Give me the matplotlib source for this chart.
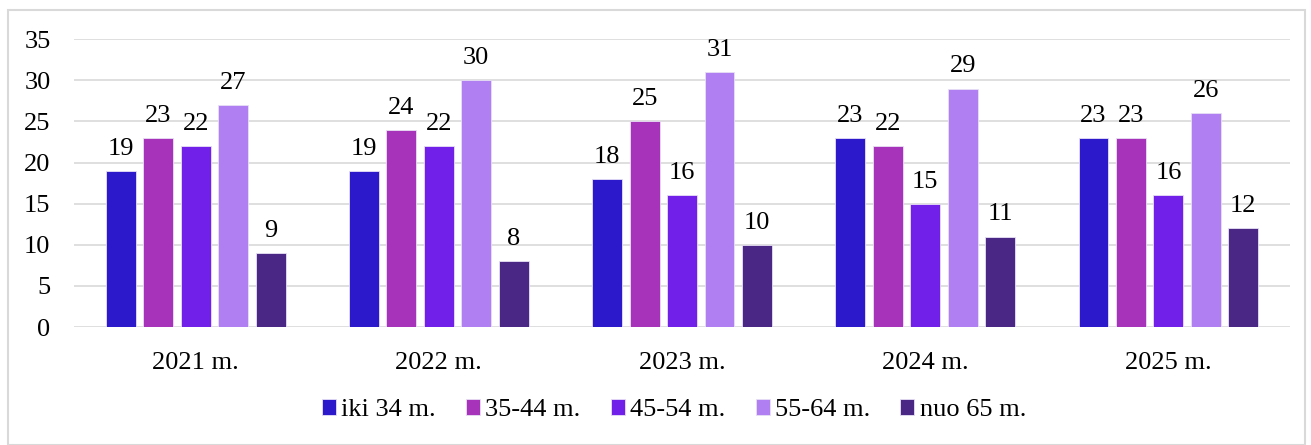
import numpy as np
import matplotlib.pyplot as plt
from matplotlib.patches import Rectangle

# Duomenys
years = ['2021 m.', '2022 m.', '2023 m.', '2024 m.', '2025 m.']
groups = ['iki 34 m.', '35-44 m.', '45-54 m.', '55-64 m.', 'nuo 65 m.']
iki34 = [19, 19, 18, 23, 23]
g35_44 = [23, 24, 25, 22, 23]
g45_54 = [22, 22, 16, 15, 16]
g55_64 = [27, 30, 31, 29, 26]
nuo65 = [9, 8, 10, 11, 12]
series = [iki34, g35_44, g45_54, g55_64, nuo65]
colors = ['#2D19CC', '#A733BA', '#7020E8', '#B07FF2', '#4A2685']

plt.rcParams['font.family'] = ['Liberation Serif', 'DejaVu Serif']

fig = plt.figure(figsize=(13.11, 4.45), dpi=100)
ax = fig.add_axes([0.0565, 0.265, 0.9275, 0.647])

x = np.arange(len(years))
step = 0.154
width = 0.123
for i, (vals, name, c) in enumerate(zip(series, groups, colors)):
    pos = x + (i - 2) * step
    bars = ax.bar(pos, vals, width, color=c, label=name, edgecolor='#E8E0F5', linewidth=0.6, zorder=3)
    for b, v in zip(bars, vals):
        ax.text(b.get_x() + b.get_width() / 2, v + 1.35, str(v), ha='center', va='bottom', fontsize=19)

ax.set_ylim(0, 35)
ax.set_xlim(-0.5, len(years) - 0.5)
ax.set_yticks(range(0, 36, 5))
ax.set_xticks(x)
ax.set_xticklabels(years)
ax.tick_params(axis='both', length=0, labelsize=19)
ax.tick_params(axis='x', pad=18)
ax.tick_params(axis='y', pad=17)
ax.yaxis.grid(True, color='#D9D9D9', linewidth=1.2, zorder=0)
for s in ax.spines.values():
    s.set_visible(False)

fig.legend(loc='center', bbox_to_anchor=(0.514, 0.078), ncol=5, frameon=False, fontsize=19,
           handlelength=0.53, handleheight=0.53, handletextpad=0.2, columnspacing=1.15)

# rėmelis aplink grafiką
fig.patches.append(Rectangle((8 / 1311, 0), 1297 / 1311, 1 - 10 / 445, transform=fig.transFigure,
                             fill=False, edgecolor='#D9D9D9', linewidth=1.5))

fig.savefig('out.png', dpi=100)
